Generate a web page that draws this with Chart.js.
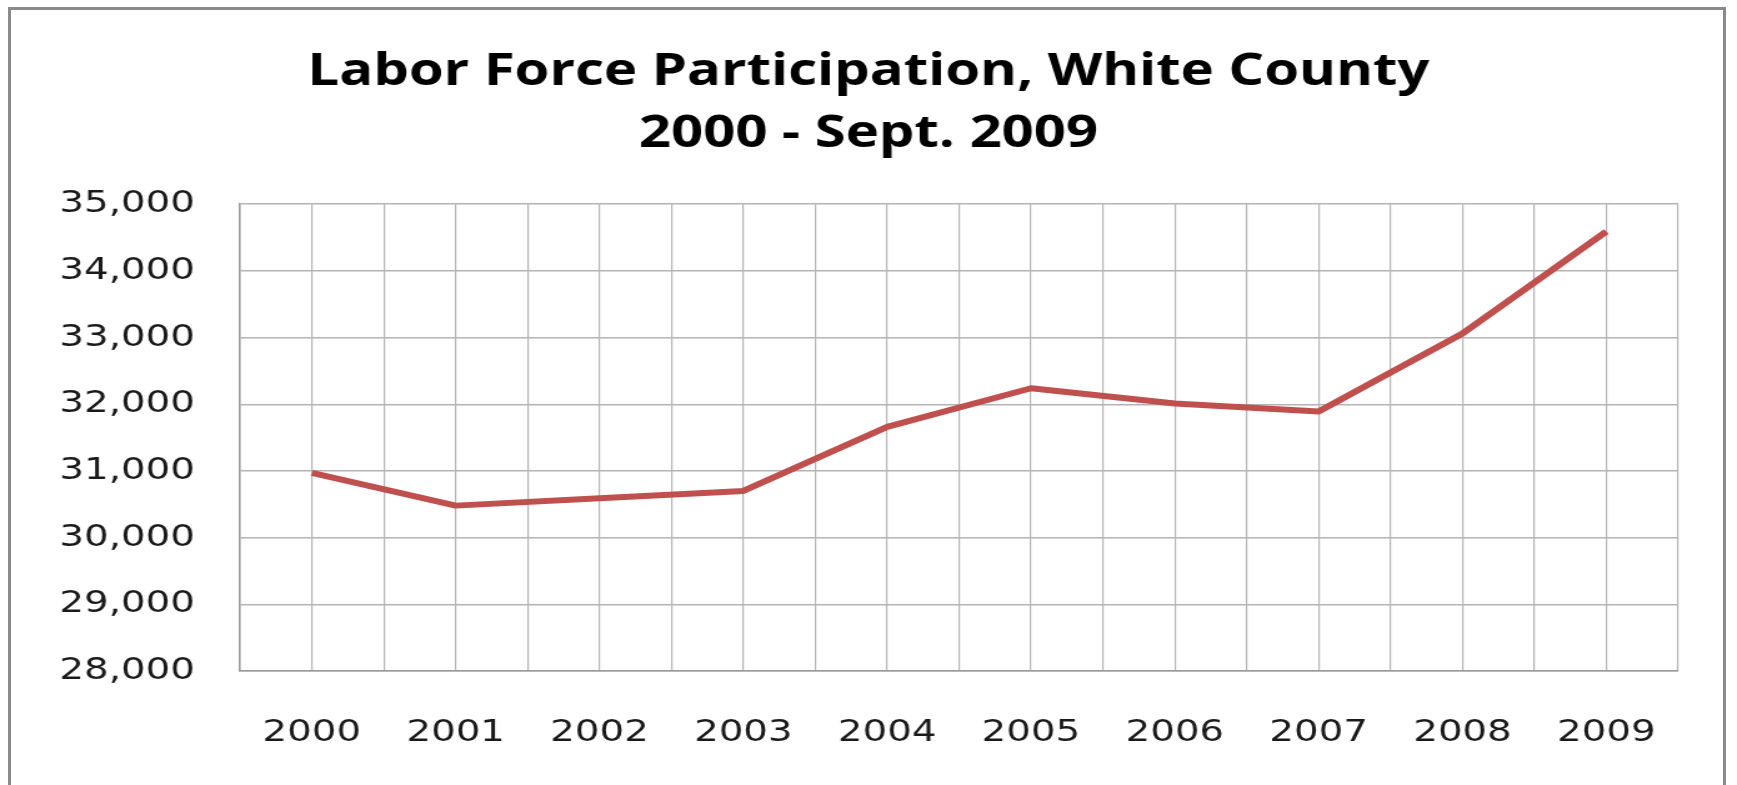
<!DOCTYPE html>
<html>
<head>
<meta charset="utf-8">
<title>Labor Force Participation, White County</title>
<script src="https://cdn.jsdelivr.net/npm/chart.js@4.4.0/dist/chart.umd.min.js"></script>
<style>
    html, body {
        margin: 0;
        padding: 0;
        background: #ffffff;
        overflow: hidden;
    }
    #cadre {
        position: absolute;
        left: 8px;
        top: 7px;
        width: 1712px;
        height: 800px;
        border: 3px solid #8a8a8a;
        box-sizing: content-box;
        pointer-events: none;
    }
    /* the chart is laid out narrower, then widened to fill the page */
    #zone {
        position: absolute;
        left: 0;
        top: 0;
        width: 1390px;
        height: 785px;
        transform: scaleX(1.2496);
        transform-origin: 0 0;
    }
</style>
</head>
<body>
<div id="zone"><canvas id="graphLabor" width="1390" height="785"></canvas></div>
<div id="cadre"></div>

<script>
// Années et population active (White County)
const annees = ['2000', '2001', '2002', '2003', '2004', '2005', '2006', '2007', '2008', '2009'];
const actifs = [30970, 30480, 30590, 30700, 31660, 32240, 32010, 31890, 33060, 34590];

// Axe vertical
const yMin = 28000;
const yMax = 35000;
const yPas = 1000;

const titre = ['Labor Force Participation, White County', '2000 - Sept. 2009'];

function afficherGraphique() {
    const ctx = document.getElementById('graphLabor').getContext('2d');

    const points = annees.map((a, i) => ({ x: i, y: actifs[i] }));

    new Chart(ctx, {
        type: 'line',
        data: {
            datasets: [{
                label: 'Labor Force',
                data: points,
                borderColor: '#c0504d',
                borderWidth: 6,
                borderJoinStyle: 'round',
                fill: false,
                tension: 0,
                pointRadius: 0
            }]
        },
        options: {
            responsive: false,
            animation: false,
            // marges symétriques pour que le titre reste centré sur la page
            layout: {
                padding: { left: 47, right: 47, top: 0, bottom: 0 }
            },
            scales: {
                x: {
                    type: 'linear',
                    min: -0.5,
                    max: annees.length - 0.5,
                    grid: {
                        color: '#b4b4b4',
                        lineWidth: 1.2,
                        drawTicks: false
                    },
                    border: { color: '#9a9a9a', width: 1.5 },
                    ticks: {
                        stepSize: 0.5,
                        autoSkip: false,
                        maxRotation: 0,
                        padding: 43,
                        color: '#1a1a1a',
                        font: { family: 'DejaVu Sans', size: 31 },
                        callback: function (v) {
                            return Number.isInteger(v) ? annees[v] : '';
                        }
                    },
                    afterFit: function (scale) {
                        scale.height = 114;
                    }
                },
                y: {
                    min: yMin,
                    max: yMax,
                    grid: {
                        color: '#b4b4b4',
                        lineWidth: 1.5,
                        drawTicks: false
                    },
                    border: { color: '#9a9a9a', width: 1.5 },
                    ticks: {
                        stepSize: yPas,
                        padding: 36,
                        color: '#1a1a1a',
                        font: { family: 'DejaVu Sans', size: 31 },
                        callback: v => v.toLocaleString('en-US')
                    },
                    afterFit: function (scale) {
                        scale.width = 145;
                    }
                }
            },
            plugins: {
                legend: { display: false },
                tooltip: { enabled: false },
                title: {
                    display: true,
                    text: titre,
                    color: '#000000',
                    font: { family: 'Open Sans', size: 45, weight: 'bold', lineHeight: 1.38 },
                    padding: { top: 41, bottom: 39 }
                }
            }
        }
    });
}

window.onload = function () {
    afficherGraphique();
};
</script>
</body>
</html>
